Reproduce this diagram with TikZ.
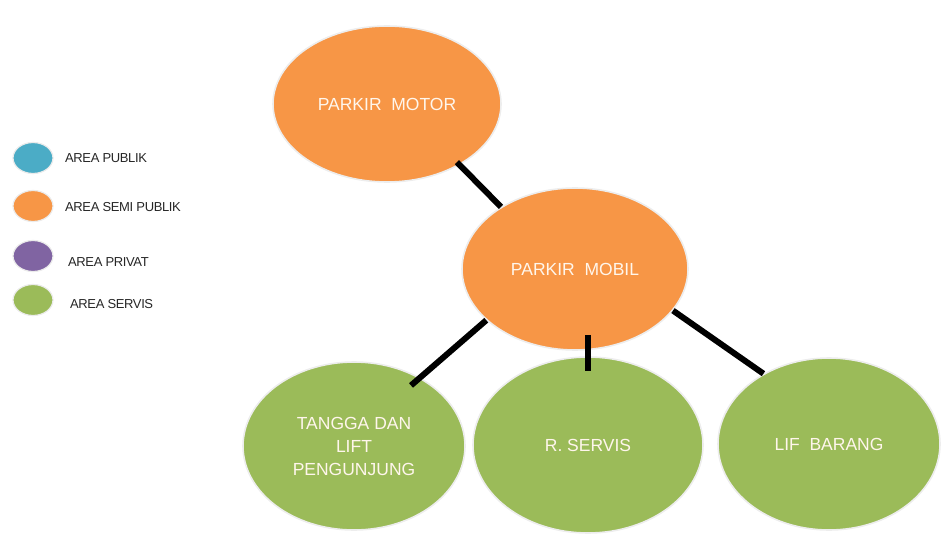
\documentclass[tikz,border=0pt]{standalone}
\usepackage{fontspec}
\setmainfont{Liberation Sans}
\usetikzlibrary{shapes.geometric}
\definecolor{publik}{HTML}{4BACC6}
\definecolor{semipublik}{HTML}{F79646}
\definecolor{privat}{HTML}{8064A2}
\definecolor{servis}{HTML}{9BBB59}
\definecolor{labeltxt}{HTML}{FFF6EC}
\begin{document}
\begin{tikzpicture}[x=1pt,y=-1pt,
  zone/.style={ellipse,draw=white!93!black,line width=1.6pt,inner sep=0pt,
    text=labeltxt,align=center,
    font=\fontsize{17.5}{23}\selectfont},
  legdot/.style={ellipse,draw=white!92!black,line width=1.2pt,
    minimum width=40pt,minimum height=31pt,inner sep=0pt},
  legtxt/.style={anchor=west,inner sep=0pt,text=black!85,
    font=\fontsize{13}{13}\selectfont\addfontfeature{LetterSpace=-3}},
  link/.style={line width=6pt,black}]
\useasboundingbox (0,0) rectangle (941,537);

% legend
\node[legdot,fill=publik]     (lp)  at (33,158) {};
\node[legdot,fill=semipublik] (lsp) at (33,206) {};
\node[legdot,fill=privat]     (lpr) at (33,256) {};
\node[legdot,fill=servis]     (lsv) at (33,300) {};
\node[legtxt] (tp)  at (65,158) {AREA PUBLIK};
\node[legtxt] (tsp) at (65,207) {AREA SEMI PUBLIK};
\node[legtxt] (tpr) at (68,262) {AREA PRIVAT};
\node[legtxt] (tsv) at (70,304) {AREA SERVIS};

% zones
\node[zone,fill=semipublik,minimum width=228pt,minimum height=156pt] (motor) at (387,104) {PARKIR\ \ MOTOR};
\node[zone,fill=semipublik,minimum width=226pt,minimum height=162pt] (mobil) at (575,269) {PARKIR\ \ MOBIL};
\node[zone,fill=servis,minimum width=222pt,minimum height=168pt] (tangga) at (354,446) {TANGGA DAN\\LIFT\\PENGUNJUNG};
\node[zone,fill=servis,minimum width=230pt,minimum height=176pt] (rservis) at (588,445) {R. SERVIS};
\node[zone,fill=servis,minimum width=222pt,minimum height=172pt] (lif) at (829,444) {LIF\ \ BARANG};

% connectors
\draw[link,shorten <=-4pt] (motor.-40) -- (mobil.140);
\draw[link,shorten >=-12pt] (mobil.210) -- (tangga.46);
\draw[link,shorten <=-16pt,shorten >=-15pt] (rservis.north |- mobil.south) -- (rservis.north);
\draw[link] (mobil.-23) -- (lif.133);
\end{tikzpicture}
\end{document}
